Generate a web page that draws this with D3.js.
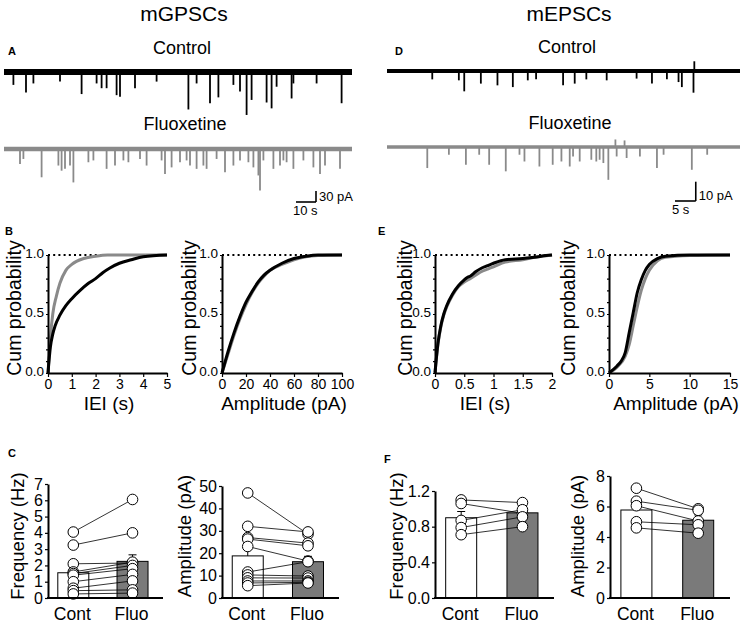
<!DOCTYPE html>
<html lang="en">
<head>
<meta charset="UTF-8">
<title>mGPSCs / mEPSCs</title>
<script src="https://d3js.org/d3.v7.min.js"></script>
<style>
    body { margin: 0; background: #fff; }
    svg { display: block; font-family: Arial, "Liberation Sans", sans-serif; }
    .axis path, .axis line { stroke: #000; }
    .axis path { stroke-width: 2px; }
    .axis line { stroke-width: 1.2px; }
    .axis text { fill: #000; font-family: Arial, "Liberation Sans", sans-serif; }
</style>
</head>
<body>
<svg id="fig" width="744" height="625"></svg>
<script>
// ---- traces: [time (s), amplitude (pA)] of each event ----
const gabaControlEvents = [[4.7,27],[11,48],[14.7,23],[28,18],[38.8,52],[46.3,23],[48.8,36],[51.3,36],[56.3,55],[58,59],
    [65.5,36],[76.3,18],[92.2,94],[96.3,23],[103,77],[107.2,61],[114.7,27],[118,45],[121.3,109],[123.8,68],
    [131.3,75],[133.8,91],[136.3,32],[143.8,64],[144.7,23],[156.3,23],[168.8,77]];
const gabaFluoEvents = [[8,35],[9.7,21],[18.8,71],[27.2,39],[28.8,53],[30.5,48],[33,39],[34.7,85],[42.2,30],[44.7,25],
    [51.3,48],[55.5,39],[59.7,25],[62.2,30],[68,21],[71.3,39],[78.8,25],[80.5,62],[83.8,44],[88,30],[91.3,25],
    [93,39],[96.3,48],[99.7,39],[101.3,48],[106.3,21],[110.5,57],[114.7,39],[118,25],[122.2,30],[124.7,44],
    [127.2,66],[128,107],[129.7,25],[134.7,48],[138,39],[139.7,25],[141.3,30],[144.7,48],[149.7,25],[154.7,44],
    [158,62],[160.5,39],[168,48]];
const gluControlEvents = [[10.9,3.3],[17.3,3.8],[18.6,9.5],[22.6,5.5],[26.6,6.4],[30.3,7.3],[33.9,3.8],[35.9,3.3],
    [42.4,6.4],[45.2,5.5],[48,3.3],[52.9,3.8],[60.1,2.9],[63.8,5.5],[67.4,3.3],[70.2,4.7],[71,7.3],[73.8,10.2],[74,-4]];
const gluFluoEvents = [[9.7,10],[14.9,3.1],[19,8.3],[22.2,3.1],[24.6,8.3],[28.6,11.7],[31.9,3.1],[33.1,6.6],[36.7,9.2],
    [39.9,8.3],[42,6.6],[44,9.2],[44.8,4],[46.4,6.6],[49.2,5.7],[50.4,6.6],[51.2,5.7],[52.1,7.4],[53.3,16.1],
    [55,-3],[55.3,4],[57.2,-2.5],[57.7,4.8],[60.9,4],[65,10],[66.6,3.1],[73.4,10.9],[77.1,3.1]];

// ---- cumulative probability curves: [x, P] ----
const gabaIeiCdfCont = [[0,0],[0.1,0.22],[0.2,0.33],[0.3,0.4],[0.5,0.49],[0.75,0.57],[1,0.63],[1.35,0.7],[1.7,0.76],
    [2,0.8],[2.3,0.85],[2.6,0.89],[3,0.93],[3.5,0.96],[4,0.985],[5,1]];
const gabaIeiCdfFluo = [[0,0],[0.1,0.3],[0.2,0.5],[0.35,0.65],[0.5,0.76],[0.75,0.87],[1,0.92],[1.5,0.97],[2,0.99],[2.5,1],[5,1]];
const gabaAmpCdfCont = [[0,0],[5,0.18],[10,0.34],[15,0.48],[20,0.6],[25,0.69],[30,0.77],[35,0.83],[40,0.87],[50,0.93],
    [60,0.97],[70,0.99],[80,1],[100,1]];
const gabaAmpCdfFluo = [[0,0],[5,0.16],[10,0.32],[15,0.46],[20,0.58],[25,0.68],[30,0.76],[35,0.82],[40,0.87],[50,0.92],
    [60,0.96],[70,0.985],[80,0.995],[100,1]];
const gluIeiCdfCont = [[0,0],[0.05,0.25],[0.1,0.4],[0.15,0.5],[0.2,0.57],[0.3,0.67],[0.4,0.74],[0.5,0.79],[0.55,0.81],
    [0.6,0.82],[0.7,0.86],[0.8,0.89],[0.9,0.91],[1,0.93],[1.2,0.96],[1.5,0.97],[1.7,0.98],[1.9,0.995],[2,1]];
const gluIeiCdfFluo = [[0,0],[0.05,0.24],[0.1,0.39],[0.15,0.49],[0.2,0.56],[0.3,0.66],[0.4,0.73],[0.5,0.77],[0.6,0.8],
    [0.7,0.83],[0.8,0.86],[0.9,0.88],[1,0.9],[1.2,0.94],[1.5,0.96],[1.7,0.98],[2,1]];
const gluAmpCdfCont = [[0,0],[1,0.06],[1.5,0.1],[2,0.17],[2.5,0.34],[3,0.51],[3.5,0.68],[4,0.79],[4.5,0.87],[5,0.92],
    [6,0.97],[7,0.99],[10,1],[15,1]];
const gluAmpCdfFluo = [[0,0],[1,0.05],[2,0.14],[2.5,0.24],[3,0.4],[3.5,0.56],[4,0.7],[4.5,0.8],[5,0.87],[6,0.95],
    [7,0.98],[10,0.995],[15,1]];

// ---- per-cell values, paired by index (Cont -> Fluo) ----
const groups = ["Cont", "Fluo"];
const gabaFreqCont = [4.05, 3.25, 2.1, 1.6, 1.5, 1.4, 1.0, 0.6, 0.45, 0.25];
const gabaFreqFluo = [6.05, 4.0, 2.15, 2.2, 2.0, 1.8, 1.45, 1.05, 0.5, 0.3];
const gabaFreqMean = [1.55, 2.25], gabaFreqErr = [0.3, 0.4];
const gabaAmpCont = [46.9, 32, 27, 26.3, 23, 11.6, 10.3, 9, 7.6, 6.7, 5.5];
const gabaAmpFluo = [28.5, 29.5, 24.5, 23.3, 16.5, 16.2, 9.8, 8.9, 7.6, 7, 6.7];
const gabaAmpMean = [18.8, 16.2], gabaAmpErr = [3.8, 2.4];
const gluFreqCont = [1.10, 1.06, 0.87, 0.79, 0.71];
const gluFreqFluo = [1.07, 0.95, 0.99, 0.91, 0.80];
const gluFreqMean = [0.90, 0.955], gluFreqErr = [0.07, 0.04];
const gluAmpCont = [7.2, 6.35, 6.05, 5.0, 4.6];
const gluAmpFluo = [5.85, 5.75, 5.05, 4.8, 4.25];
const gluAmpMean = [5.77, 5.1], gluAmpErr = [0.42, 0.35];

const grey = "#8a8a8a";
const svg = d3.select("#fig");

function text(x, y, s, size, opts = {}) {
    const t = svg.append("text").attr("x", x).attr("y", y).text(s)
        .attr("font-size", size).attr("text-anchor", opts.anchor || "middle")
        .attr("font-weight", opts.bold ? "bold" : null);
    if (opts.rotate) t.attr("transform", `rotate(-90,${x},${y})`);
    return t;
}

// headings and panel letters
text(184, 21, "mGPSCs", 21);
text(569, 21, "mEPSCs", 21);
[["A", 8, 55], ["D", 395, 55], ["B", 5, 235], ["E", 378, 235], ["C", 8, 457], ["F", 384, 463]]
    .forEach(([s, x, y]) => text(x, y, s, 11, {anchor: "start", bold: true}));

// ---- traces ----
function trace(events, x, yBase, pxPerPa, color, width) {
    const g = svg.append("g");
    g.append("line").attr("x1", x.range()[0]).attr("x2", x.range()[1])
        .attr("y1", yBase).attr("y2", yBase)
        .attr("stroke", color).attr("stroke-width", width);
    g.selectAll("line.ev").data(events).join("line").attr("class", "ev")
        .attr("x1", d => x(d[0])).attr("x2", d => x(d[0]))
        .attr("y1", yBase).attr("y2", d => yBase + d[1] * pxPerPa + (d[1] > 0 ? width / 2 : -width / 2))
        .attr("stroke", color).attr("stroke-width", 1.8);
}

function scaleBar(x, x0, y0, secs, pxPerPa, pa, labelPa, labelS) {
    const len = x(x.domain()[0] + secs) - x.range()[0];
    const g = svg.append("g").attr("stroke", "#000").attr("stroke-width", 1.6);
    g.append("line").attr("x1", x0).attr("x2", x0 + len).attr("y1", y0).attr("y2", y0);
    g.append("line").attr("x1", x0 + len).attr("x2", x0 + len).attr("y1", y0).attr("y2", y0 - pa * pxPerPa);
    text(x0 + len + 3, y0 - 1, labelPa, 13, {anchor: "start"});
    text(x0 - 3, y0 + 13, labelS, 13, {anchor: "start"});
}

const xA = d3.scaleLinear().domain([0, 174]).range([4, 352]);
const pxA = 11 / 30;
text(182, 54, "Control", 18);
text(185, 130, "Fluoxetine", 18);
trace(gabaControlEvents, xA, 72, pxA, "#000", 6);
trace(gabaFluoEvents, xA, 149, pxA, grey, 4.5);
scaleBar(xA, 296, 202, 10, pxA, 30, "30 pA", "10 s");

const xD = d3.scaleLinear().domain([0, 85]).range([387, 740]);
const pxD = 19.3 / 10;
text(567, 53, "Control", 18);
text(570, 129, "Fluoxetine", 18);
trace(gluControlEvents, xD, 71, pxD, "#000", 4);
trace(gluFluoEvents, xD, 147, pxD, grey, 3.5);
scaleBar(xD, 675, 201, 5, pxD, 10, "10 pA", "5 s");

// ---- cumulative probability panels ----
function cdfPanel(box, xMax, xTicks, ctrl, fluo, xLabel, ylabBase) {
    const x = d3.scaleLinear().domain([0, xMax]).range([box.x0, box.x1]);
    const y = d3.scaleLinear().domain([0, 1]).range([373, 255]);
    const g = svg.append("g");
    g.append("line").attr("x1", x(0)).attr("x2", x(xMax)).attr("y1", y(1)).attr("y2", y(1))
        .attr("stroke", "#000").attr("stroke-width", 2.2).attr("stroke-dasharray", "2,3.2");
    const line = d3.line().x(d => x(d[0])).y(d => y(d[1])).curve(d3.curveMonotoneX);
    g.append("path").datum(fluo).attr("d", line).attr("fill", "none").attr("stroke", grey).attr("stroke-width", 3);
    g.append("path").datum(ctrl).attr("d", line).attr("fill", "none").attr("stroke", "#000").attr("stroke-width", 3);
    g.append("g").attr("class", "axis").attr("transform", `translate(${box.x0},0)`)
        .call(d3.axisLeft(y).tickValues(d3.range(0, 1.01, 0.1)).tickSize(2).tickSizeOuter(0)
            .tickFormat(d => [0, 0.5, 1].some(v => Math.abs(v - d) < 1e-6) ? d3.format(".1f")(d) : ""))
        .call(a => a.selectAll("text").attr("font-size", 13.5).attr("dx", 1).attr("dy", "0.2em"));
    g.append("g").attr("class", "axis").attr("transform", "translate(0,373)")
        .call(d3.axisBottom(x).tickValues(xTicks).tickSize(4).tickSizeOuter(0).tickFormat(d3.format("~g")))
        .call(a => a.selectAll("text").attr("font-size", 14).attr("dy", "0.66em"));
    text(ylabBase, 308, "Cum probability", 19.5, {rotate: true});
    text(box.titleX, 410, xLabel, 19);
}

cdfPanel({x0: 48, x1: 167, titleX: 109}, 5, [0, 1, 2, 3, 4, 5], gabaIeiCdfCont, gabaIeiCdfFluo, "IEI (s)", 20.5);
cdfPanel({x0: 222, x1: 342, titleX: 284}, 100, [0, 20, 40, 60, 80, 100], gabaAmpCdfCont, gabaAmpCdfFluo, "Amplitude (pA)", 196);
cdfPanel({x0: 435, x1: 552, titleX: 485}, 2, [0, 0.5, 1, 1.5, 2], gluIeiCdfCont, gluIeiCdfFluo, "IEI (s)", 412);
cdfPanel({x0: 609, x1: 730, titleX: 676}, 15, [0, 5, 10, 15], gluAmpCdfCont, gluAmpCdfFluo, "Amplitude (pA)", 575);

// ---- paired bar panels ----
function barPanel(box, yMax, yTicks, fmt, cont, fluo, mean, err, yLabel, ylabBase) {
    const y = d3.scaleLinear().domain([0, yMax]).range([598, box.yTop]);
    const w = box.x1 - box.x0;
    const x = d3.scalePoint().domain(groups).range([box.x0 + 0.22 * w, box.x0 + 0.735 * w]);
    const bw = 31;
    const g = svg.append("g");
    g.selectAll("rect").data(groups).join("rect")
        .attr("x", d => x(d) - bw / 2).attr("width", bw)
        .attr("y", (d, i) => y(mean[i])).attr("height", (d, i) => 598 - y(mean[i]))
        .attr("fill", (d, i) => i ? "#7a7a7a" : "#fff").attr("stroke", "#000").attr("stroke-width", 1);
    const eb = g.selectAll("g.eb").data(groups).join("g").attr("class", "eb")
        .attr("stroke", "#000").attr("stroke-width", 1);
    eb.append("line").attr("x1", d => x(d)).attr("x2", d => x(d))
        .attr("y1", (d, i) => y(mean[i])).attr("y2", (d, i) => y(mean[i] + err[i]));
    eb.append("line").attr("x1", d => x(d) - 4).attr("x2", d => x(d) + 4)
        .attr("y1", (d, i) => y(mean[i] + err[i])).attr("y2", (d, i) => y(mean[i] + err[i]));
    const pairs = cont.map((c, i) => [c, fluo[i]]);
    g.selectAll("line.pair").data(pairs).join("line").attr("class", "pair")
        .attr("x1", x("Cont")).attr("x2", x("Fluo"))
        .attr("y1", d => y(d[0])).attr("y2", d => y(d[1]))
        .attr("stroke", "#000").attr("stroke-width", 0.8);
    const pts = cont.map(v => ["Cont", v]).concat(fluo.map(v => ["Fluo", v]));
    g.selectAll("circle").data(pts).join("circle")
        .attr("cx", d => x(d[0])).attr("cy", d => y(d[1])).attr("r", 5.3)
        .attr("fill", "#fff").attr("stroke", "#000").attr("stroke-width", 1);
    g.append("g").attr("class", "axis").attr("transform", `translate(${box.x0},0)`)
        .call(d3.axisLeft(y).tickValues(yTicks).tickSize(3).tickSizeOuter(0).tickFormat(fmt))
        .call(a => a.selectAll("text").attr("font-size", 16).attr("dx", 1));
    g.append("line").attr("x1", box.x0 - 1).attr("x2", box.x1).attr("y1", 598).attr("y2", 598)
        .attr("stroke", "#000").attr("stroke-width", 2.2);
    groups.forEach(d => text(x(d) - 1, 620, d, 17.5));
    text(ylabBase, 536, yLabel, 18.5, {rotate: true});
}

barPanel({x0: 48, x1: 163, yTop: 484}, 7, d3.range(0, 8), d3.format("d"),
    gabaFreqCont, gabaFreqFluo, gabaFreqMean, gabaFreqErr, "Frequency (Hz)", 24);
barPanel({x0: 222, x1: 339, yTop: 486}, 50, d3.range(0, 51, 10), d3.format("d"),
    gabaAmpCont, gabaAmpFluo, gabaAmpMean, gabaAmpErr, "Amplitude (pA)", 191);
barPanel({x0: 435, x1: 554, yTop: 491}, 1.2, [0, 0.4, 0.8, 1.2], d3.format(".1f"),
    gluFreqCont, gluFreqFluo, gluFreqMean, gluFreqErr, "Frequency (Hz)", 403);
barPanel({x0: 610, x1: 730, yTop: 476}, 8, [0, 2, 4, 6, 8], d3.format("d"),
    gluAmpCont, gluAmpFluo, gluAmpMean, gluAmpErr, "Amplitude (pA)", 584);
</script>
</body>
</html>
